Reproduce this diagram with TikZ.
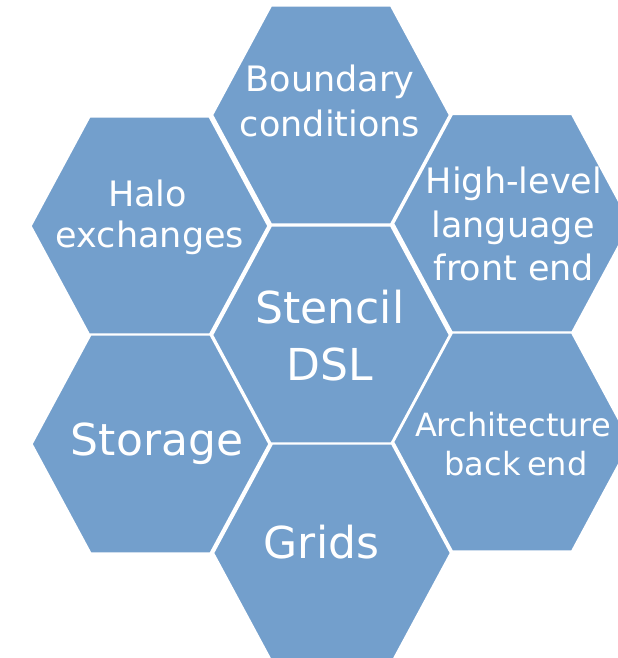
\documentclass[tikz,border=0pt]{standalone}
\usepackage{fontspec}
\setmainfont{DejaVu Sans}
\definecolor{hexblue}{RGB}{115,159,204}
\begin{document}
\begin{tikzpicture}[x=1bp,y=-1bp,
  hexcell/.style={fill=hexblue,draw=white,line width=2.3bp,line join=miter},
  lbl/.style={text=white,inner sep=0pt,anchor=base},
  fsmall/.style={font=\fontsize{35bp}{41bp}\selectfont},
  fmid/.style={font=\fontsize{32bp}{38bp}\selectfont},
  fbig/.style={font=\fontsize{44bp}{53bp}\selectfont}]
\useasboundingbox (0,0) rectangle (618,658);
\clip (0,0) rectangle (618,658);
% hexagon: half width 119, top half width 60, half height 109.5
\newcommand{\hexat}[2]{%
  \path[hexcell] (#1-119,#2) -- (#1-60,#2-109.5) -- (#1+60,#2-109.5) -- (#1+119,#2)
    -- (#1+60,#2+109.5) -- (#1-60,#2+109.5) -- cycle;}
\hexat{331}{115}
\hexat{331}{335}
\hexat{332}{553}
\hexat{149.5}{226}
\hexat{150.5}{444}
\hexat{512}{223.5}
\hexat{512}{442}
% labels
\node[lbl,fsmall] (bnd1) at (330,91.7) {Boundary};
\node[lbl,fsmall] (bnd2) at (330,136.7) {conditions};
\node[lbl,fsmall] (halo1) at (147.5,206.7) {Halo};
\node[lbl,fsmall] (halo2) at (150,247.3) {exchanges};
\node[lbl,fsmall] (hl1) at (514,193) {High-level};
\node[lbl,fsmall] (hl2) at (513,237) {language};
\node[lbl,fsmall] (hl3) at (514,280) {front end};
\node[lbl,fbig] (st1) at (330,323) {Stencil};
\node[lbl,fbig] (st2) at (330,380) {DSL};
\node[lbl,fbig] (stor) at (157,455) {Storage};
\node[lbl,fmid] (arch1) at (513,436.7) {Architecture};
\node[lbl,fmid] (arch2) at (516,475) {back\hspace{0.2em}end};
\node[lbl,fbig] (grid) at (321.5,558) {Grids};
\end{tikzpicture}
\end{document}
